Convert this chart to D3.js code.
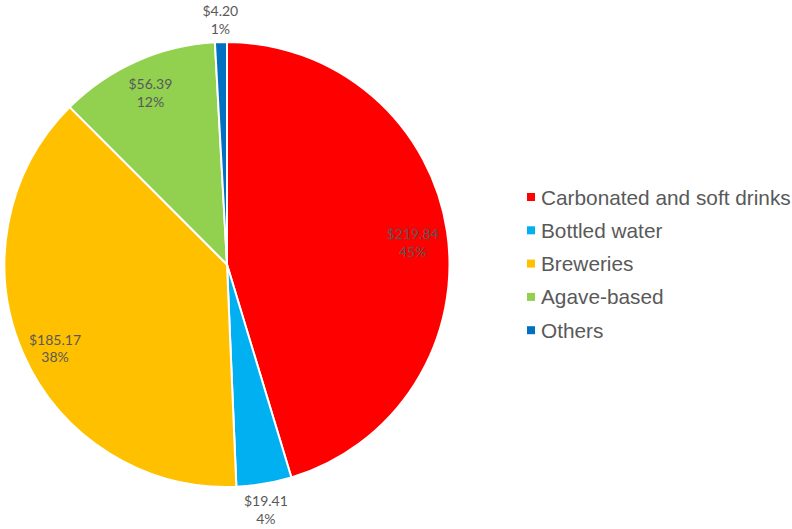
<!DOCTYPE html>
<html>
<head>
<meta charset="utf-8">
<script src="https://cdn.jsdelivr.net/npm/d3@7/dist/d3.min.js"></script>
<style>
  html, body { margin: 0; padding: 0; background: #ffffff; }
  svg { display: block; }
</style>
</head>
<body>
<svg id="chart" width="792" height="529"></svg>
<script>
// Beverage market segments (US$ billions)
const categories = ["Carbonated and soft drinks", "Bottled water", "Breweries", "Agave-based", "Others"];
const values = [219.84, 19.41, 185.17, 56.39, 4.20];
const valueLabels = ["$219.84", "$19.41", "$185.17", "$56.39", "$4.20"];
const percentLabels = ["45%", "4%", "38%", "12%", "1%"];
const colors = ["#FF0000", "#00B0F0", "#FFC000", "#92D050", "#0070C0"];

// Label placement: radius as a fraction of the pie radius, and a shift (degrees) from the slice's mid-angle
const labelRadius = [0.84, 1.115, 0.86, 0.845, 1.10];
const labelShift = [1.8, 0.6, -2.3, 0, 0];

const svg = d3.select("#chart");
const cx = 227, cy = 264.5, r = 222.5;

const pie = d3.pie().sort(null).value(d => d)(values);
const arc = d3.arc().innerRadius(0).outerRadius(r);

const g = svg.append("g").attr("transform", `translate(${cx},${cy})`);

g.selectAll("path.slice")
  .data(pie)
  .join("path")
  .attr("class", "slice")
  .attr("d", arc)
  .attr("fill", (d, i) => colors[i])
  .attr("stroke", "#ffffff")
  .attr("stroke-width", 2)
  .attr("stroke-linejoin", "round");

// Data labels: value on the first line, share on the second
const labels = g.selectAll("text.dlabel")
  .data(pie)
  .join("text")
  .attr("class", "dlabel")
  .attr("font-family", "Lato, 'Open Sans', sans-serif")
  .attr("font-size", 14)
  .attr("fill", "#595959")
  .attr("text-anchor", "middle")
  .attr("transform", (d, i) => {
    const a = (d.startAngle + d.endAngle) / 2 + labelShift[i] * Math.PI / 180;
    const rr = r * labelRadius[i];
    return `translate(${rr * Math.sin(a)},${-rr * Math.cos(a)})`;
  });

labels.append("tspan")
  .attr("x", 0)
  .attr("y", -3.5)
  .text((d, i) => valueLabels[i]);
labels.append("tspan")
  .attr("x", 0)
  .attr("y", 14)
  .text((d, i) => percentLabels[i]);

// Legend
const legend = svg.append("g").attr("transform", "translate(527,197)");
const rowStep = 33.3;
const items = legend.selectAll("g.item")
  .data(categories)
  .join("g")
  .attr("class", "item")
  .attr("transform", (d, i) => `translate(0,${i * rowStep})`);

items.append("rect")
  .attr("x", 0)
  .attr("y", -4)
  .attr("width", 8)
  .attr("height", 8)
  .attr("fill", (d, i) => colors[i]);

items.append("text")
  .attr("x", 14)
  .attr("y", 7.5)
  .attr("font-family", "'Liberation Sans', Arial, sans-serif")
  .attr("font-size", 20.8)
  .attr("fill", "#595959")
  .text(d => d);
</script>
</body>
</html>
